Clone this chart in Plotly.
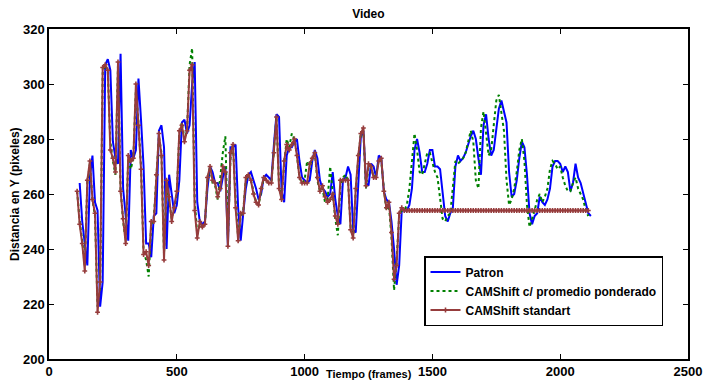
import plotly.graph_objects as go

# ---- data ----
frames_std = list(range(110, 2120, 10))      # samples for the two CAMShift series
frames_pat = list(range(120, 2130, 10))      # samples for Patron

patron = [
    264, 250, 242, 234, 266, 274, 257, 254, 219, 228,
    307, 309, 305, 279, 273, 271, 311, 262, 252, 243,
    276, 273, 276, 302, 287, 270, 242, 242, 237, 252,
    253, 283, 285, 277, 240, 267, 260, 253, 256, 265,
    286, 287, 282, 285, 300, 308, 257, 250, 249, 250,
    262, 270, 268, 264, 264, 261, 266, 270, 241, 277,
    277, 278, 255, 243, 253, 262, 267, 268, 265, 262,
    258, 260, 266, 267, 266, 265, 278, 289, 288, 261,
    257, 274, 277, 277, 279, 280, 272, 266, 265, 264,
    265, 272, 276, 273, 265, 262, 261, 259, 260, 268,
    258, 252, 249, 265, 266, 270, 267, 247, 246, 263,
    281, 283, 264, 263, 271, 270, 266, 274, 273, 261,
    258, 257, 250, 240, 227, 234, 254, 254, 254, 256,
    262, 276, 280, 275, 268, 268, 271, 276, 276, 270,
    270, 269, 261, 252, 250, 253, 255, 270, 274, 272,
    273, 275, 278, 281, 283, 280, 273, 267, 285, 289,
    280, 274, 276, 284, 291, 294, 290, 286, 268, 259,
    260, 265, 273, 279, 277, 267, 253, 249, 252, 253,
    259, 257, 256, 258, 262, 270, 272, 272, 271, 268,
    270, 268, 261, 264, 271, 266, 264, 260, 256, 253,
    252,
]

ponderado = [
    261, 250, 243, 234, 264, 271, 258, 252, 219, 226,
    304, 307, 305, 279, 272, 267, 307, 262, 250, 243,
    273, 269, 273, 298, 286, 270, 239, 236, 230, 249,
    251, 265, 281, 275, 238, 264, 258, 251, 255, 260,
    282, 286, 280, 283, 307, 313, 258, 245, 249, 248,
    249, 265, 270, 264, 263, 258, 266, 275, 281, 244,
    273, 278, 258, 244, 252, 254, 265, 267, 265, 261,
    257, 256, 261, 266, 265, 264, 264, 276, 288, 263,
    258, 271, 280, 277, 282, 280, 274, 266, 264, 265,
    272, 269, 273, 275, 265, 261, 262, 257, 258, 270,
    260, 251, 245, 263, 266, 267, 265, 248, 244, 261,
    273, 282, 283, 262, 270, 270, 266, 267, 272, 272,
    262, 254, 256, 244, 225, 236, 252, 254, 254, 256,
    262, 272, 282, 276, 268, 267, 271, 275, 275, 271,
    268, 266, 259, 251, 250, 252, 253, 264, 272, 271,
    272, 273, 275, 279, 283, 279, 265, 262, 284, 290,
    282, 274, 276, 286, 294, 296, 290, 283, 265, 256,
    258, 262, 268, 276, 280, 272, 256, 248, 251, 254,
    258, 260, 257, 259, 262, 269, 272, 271, 269, 270,
    266, 263, 261, 261, 264, 266, 262, 260, 258, 254,
    252,
]

standart = [
    261, 249, 242, 232, 265, 272, 258, 253, 217, 228,
    306, 307, 305, 276, 273, 268, 308, 261, 251, 242,
    274, 272, 273, 300, 285, 269, 238, 239, 234, 250,
    250, 267, 282, 274, 236, 265, 259, 250, 255, 261,
    283, 285, 279, 283, 305, 307, 254, 244, 250, 248,
    249, 266, 270, 265, 264, 259, 262, 270, 268, 241,
    275, 278, 255, 243, 253, 253, 266, 267, 265, 260,
    257, 256, 262, 266, 265, 264, 264, 275, 288, 262,
    258, 272, 278, 276, 278, 280, 274, 266, 264, 264,
    264, 271, 273, 275, 266, 261, 263, 259, 257, 258,
    260, 252, 249, 265, 265, 265, 265, 247, 244, 262,
    274, 282, 284, 263, 271, 270, 266, 266, 272, 273,
    261, 255, 257, 246, 229, 234, 253, 255, 254, 254,
    254, 254, 254, 254, 254, 254, 254, 254, 254, 254,
    254, 254, 254, 254, 254, 254, 254, 254, 254, 254,
    254, 254, 254, 254, 254, 254, 254, 254, 254, 254,
    254, 254, 254, 254, 254, 254, 254, 254, 254, 254,
    254, 254, 254, 254, 254, 254, 254, 254, 254, 254,
    254, 254, 254, 254, 254, 254, 254, 254, 254, 254,
    254, 254, 254, 254, 254, 254, 254, 254, 254, 254,
    254,
]

x_ticks = [0, 500, 1000, 1500, 2000, 2500]
y_ticks = [200, 220, 240, 260, 280, 300, 320]

FONT = "Liberation Sans, Arial, Helvetica, sans-serif"
RED = "#963c3c"

fig = go.Figure()
fig.add_trace(go.Scatter(
    x=frames_pat, y=patron, mode="lines", name="Patron",
    line=dict(color="#0000ff", width=2),
))
fig.add_trace(go.Scatter(
    x=frames_std, y=ponderado, mode="lines", name="CAMShift c/ promedio ponderado",
    line=dict(color="#008000", width=2, dash="3px,3px"),
))
fig.add_trace(go.Scatter(
    x=frames_std, y=standart, mode="lines+markers", name="CAMShift standart",
    line=dict(color=RED, width=2),
    marker=dict(symbol="cross", size=4, color=RED),
))

axis_common = dict(
    showline=True, linecolor="black", linewidth=1.5, mirror="ticks",
    ticks="inside", ticklen=5, tickwidth=1, tickcolor="black",
    showgrid=False, zeroline=False, automargin=False,
    tickfont=dict(family=FONT, size=13, color="black", weight="bold"),
)

fig.update_layout(
    width=703, height=382,
    margin=dict(l=49, r=15, t=29, b=23),
    paper_bgcolor="white", plot_bgcolor="white",
    font=dict(family=FONT, color="black"),
    title=dict(text="Video", x=0.524, xanchor="center", y=1 - 14 / 382, yanchor="middle",
               yref="container", automargin=False,
               font=dict(family=FONT, size=12, color="black", weight="bold")),
    xaxis=dict(range=[0, 2500], tickvals=x_ticks, **axis_common),
    yaxis=dict(range=[200, 320], tickvals=y_ticks, **axis_common),
    legend=dict(
        x=(663 - 49) / 639, xanchor="right", y=(359 - 256) / 330, yanchor="top",
        bgcolor="white", bordercolor="black", borderwidth=1.5,
        font=dict(family=FONT, size=12, color="black", weight="bold"),
        itemwidth=30, tracegroupgap=0,
    ),
    showlegend=True,
)

fig.add_annotation(
    text="Tiempo (frames)", xref="paper", yref="paper", x=0.5, y=(359 - 381.5) / 330,
    xanchor="center", yanchor="bottom", showarrow=False,
    font=dict(family=FONT, size=11, color="black", weight="bold"),
)
fig.add_annotation(
    text="Distancia en Y (pixeles)", xref="paper", yref="paper",
    x=(15 - 49) / 639, y=0.5, xanchor="center", yanchor="middle",
    textangle=-90, showarrow=False,
    font=dict(family=FONT, size=12, color="black", weight="bold"),
)

fig.write_html(
    "out.html",
    config={"displayModeBar": False},
    post_script="document.body.style.margin='0px';document.body.style.overflow='hidden';",
)
